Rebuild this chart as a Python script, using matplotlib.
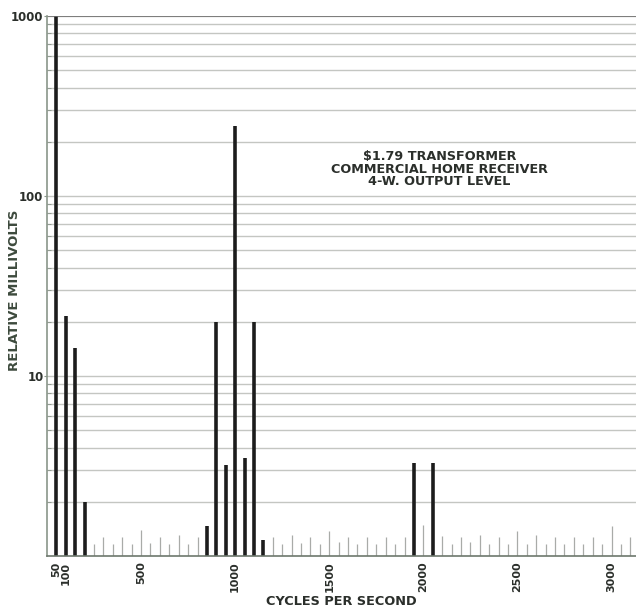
import numpy as np
import matplotlib
matplotlib.use('Agg')
import matplotlib.pyplot as plt
import matplotlib.transforms as mtransforms
from matplotlib.ticker import FixedLocator, NullFormatter

# strong harmonic / hum components (dark bars)
main_freq = [50, 100, 150, 200, 850, 900, 950, 1000, 1050, 1100, 1150, 1950, 2050]
main_mv = [1000, 21.5, 14.3, 2.0, 1.47, 20, 3.2, 245, 3.5, 20, 1.22, 3.3, 3.3]

# background residue (thin grey bars)
noise_freq = [250, 300, 350, 400, 450, 500, 550, 600, 650, 700, 750, 800,
              1200, 1250, 1300, 1350, 1400, 1450, 1500, 1550, 1600, 1650, 1700,
              1750, 1800, 1850, 1900, 2000, 2100, 2150, 2200, 2250, 2300, 2350,
              2400, 2450, 2500, 2550, 2600, 2650, 2700, 2750, 2800, 2850, 2900,
              2950, 3000, 3050, 3100]
noise_mv = [1.17, 1.28, 1.17, 1.28, 1.17, 1.39, 1.18, 1.28, 1.17, 1.31, 1.17, 1.28,
            1.28, 1.17, 1.30, 1.18, 1.28, 1.17, 1.38, 1.19, 1.28, 1.17, 1.27,
            1.17, 1.28, 1.17, 1.28, 1.48, 1.29, 1.17, 1.27, 1.19, 1.30, 1.17,
            1.27, 1.17, 1.38, 1.17, 1.30, 1.17, 1.27, 1.17, 1.28, 1.17, 1.27,
            1.17, 1.47, 1.16, 1.28]

xtick_vals = [50, 100, 500, 1000, 1500, 2000, 2500, 3000]
xtick_labels = ['50', '100', '500', '1000', '1500', '2000', '2500', '3000']
ytick_vals = [10, 100, 1000]
ytick_labels = ['10', '100', '1000']

title_txt = '\\$1.79 TRANSFORMER\nCOMMERCIAL HOME RECEIVER\n4-W. OUTPUT LEVEL'

ink = '#2b2f2b'
grid_c = '#c4c6c2'

fig = plt.figure(figsize=(6.36, 6.10), dpi=100)
ax = fig.add_axes([47/636, 54/610, 589/636, 540/610])

ax.set_yscale('log')
ax.set_ylim(1, 1000)
ax.set_xlim(0, 3130)

# grid lines at every 1..9 of each decade
minor = [m * d for d in [1, 10, 100] for m in range(2, 10)]
ax.yaxis.set_minor_locator(FixedLocator(minor))
ax.yaxis.set_minor_formatter(NullFormatter())
ax.yaxis.set_major_locator(FixedLocator(ytick_vals))
ax.set_yticklabels(ytick_labels)
ax.grid(True, which='both', axis='y', color=grid_c, lw=1.0)
ax.set_axisbelow(True)

ax.vlines(noise_freq, 1, noise_mv, color='#a9aba8', lw=0.9)
ax.vlines(main_freq, 1, main_mv, color='#1c1c1c', lw=2.6)

ax.set_xticks(xtick_vals)
ax.set_xticklabels(xtick_labels, rotation=90, fontsize=8, fontweight='bold', color=ink)
# the 50 and 100 labels sit very close, nudge them apart a little
xl = ax.get_xticklabels()
xl[0].set_transform(xl[0].get_transform() + mtransforms.ScaledTranslation(-1.5/72, 0, fig.dpi_scale_trans))
xl[1].set_transform(xl[1].get_transform() + mtransforms.ScaledTranslation(1.5/72, 0, fig.dpi_scale_trans))

for t in ax.get_yticklabels():
    t.set_fontsize(8.5)
    t.set_fontweight('bold')
    t.set_color(ink)

ax.tick_params(axis='x', length=0, pad=4)
ax.tick_params(axis='y', which='major', length=2, width=0.8, color='#8a968a', pad=0.5)
ax.tick_params(axis='y', which='minor', length=3, width=0.6, direction='in', color='#8a968a')

for s in ['right', 'top']:
    ax.spines[s].set_visible(False)
ax.spines['left'].set_color('#8a968a')
ax.spines['left'].set_linewidth(1.2)
ax.spines['bottom'].set_color('#6d786d')
ax.spines['bottom'].set_linewidth(1.2)
ax.axhline(1000, color='#707070', lw=1.2)

fig.text(15/636, 1 - 290/610, 'RELATIVE MILLIVOLTS', rotation=90, ha='center', va='center',
         fontsize=9.5, fontweight='bold', color='#3d4a3d')
ax.set_xlabel('CYCLES PER SECOND', fontsize=9.3, fontweight='bold', color=ink, labelpad=2)

ax.text(2085, 141, title_txt, ha='center', va='center', fontsize=9.2, fontweight='bold',
        color=ink, linespacing=0.98, transform=ax.transData)

fig.savefig('out.png', dpi=100)
